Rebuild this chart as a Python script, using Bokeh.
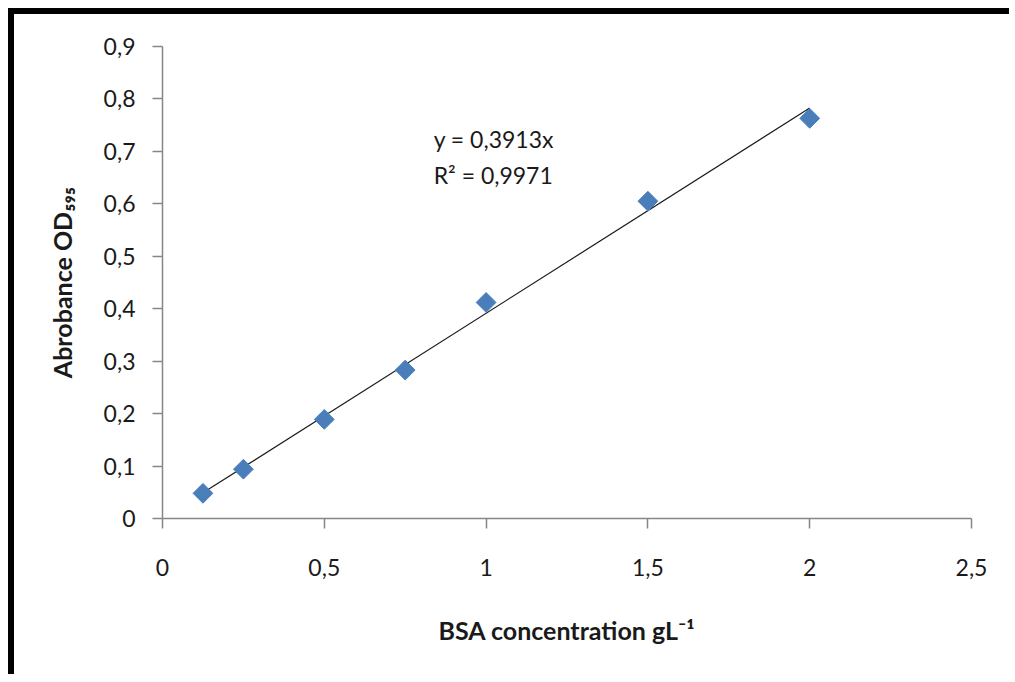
import math
from bokeh.plotting import figure
from bokeh.models import Range1d, FixedTicker, Label
from bokeh.embed import file_html
from bokeh.resources import INLINE

# data
bsa_conc = [0.125, 0.25, 0.5, 0.75, 1.0, 1.5, 2.0]
absorbance = [0.048, 0.094, 0.189, 0.283, 0.412, 0.605, 0.763]
slope = 0.3913
r2_text = "R² = 0,9971"
eq_text = "y = 0,3913x"
x_ticks = [0.0, 0.5, 1.0, 1.5, 2.0, 2.5]
x_tick_labels = ["0", "0,5", "1", "1,5", "2", "2,5"]
y_ticks = [0.0, 0.1, 0.2, 0.3, 0.4, 0.5, 0.6, 0.7, 0.8, 0.9]
y_tick_labels = ["0", "0,1", "0,2", "0,3", "0,4", "0,5", "0,6", "0,7", "0,8", "0,9"]
x_label = "BSA concentration gL⁻¹"
y_label = "Abrobance OD₅₉₅"

FONT = "Lato"
AXIS_COLOR = "#868686"

p = figure(width=995, height=660, output_backend="svg", toolbar_location=None,
           x_range=Range1d(0, 2.5), y_range=Range1d(0, 0.9),
           min_border_left=148, min_border_right=38, min_border_top=32, min_border_bottom=156,
           styles={"margin-left": "14px", "margin-top": "14px",
                   "box-shadow": "-6px 0 0 0 black, 0 -6px 0 0 black, -6px -6px 0 0 black"})
p.grid.visible = False
p.outline_line_color = None
p.background_fill_color = "white"
p.border_fill_color = "white"

for ax, ticks, labels in ((p.xaxis[0], x_ticks, x_tick_labels), (p.yaxis[0], y_ticks, y_tick_labels)):
    ax.ticker = FixedTicker(ticks=ticks)
    ax.major_label_overrides = {t: l for t, l in zip(ticks, labels)}
    ax.axis_line_color = AXIS_COLOR
    ax.axis_line_width = 1.5
    ax.major_tick_line_color = AXIS_COLOR
    ax.major_tick_line_width = 1.5
    ax.major_tick_in = 0
    ax.major_tick_out = 10
    ax.minor_tick_line_color = None
    ax.major_label_text_font = FONT
    ax.major_label_text_font_size = "23px"
    ax.major_label_text_color = "#1a1a1a"
    ax.axis_label_text_font = FONT
    ax.axis_label_text_font_size = "25px"
    ax.axis_label_text_font_style = "bold"
    ax.axis_label_text_color = "#1a1a1a"

p.xaxis[0].major_label_standoff = 30
p.yaxis[0].major_label_standoff = 17
p.xaxis[0].axis_label = x_label
p.yaxis[0].axis_label = y_label
p.xaxis[0].axis_label_standoff = 36
p.yaxis[0].axis_label_standoff = 24

# trend line
tx = [min(bsa_conc), max(bsa_conc)]
ty = [slope * v for v in tx]
p.line(tx, ty, line_color="#1a1a1a", line_width=1.2)

# points
p.scatter(bsa_conc, absorbance, marker="square", angle=math.pi / 4, size=14,
          fill_color="#4A7EBB", line_color="#4A7EBB")

p.add_layout(Label(x=0.838, y=0.724, text=eq_text, text_font=FONT, text_font_size="23px",
                   text_baseline="middle", text_color="#1a1a1a"))
p.add_layout(Label(x=0.838, y=0.655, text=r2_text, text_font=FONT, text_font_size="23px",
                   text_baseline="middle", text_color="#1a1a1a"))

open("out.html", "w").write(file_html(p, INLINE))
